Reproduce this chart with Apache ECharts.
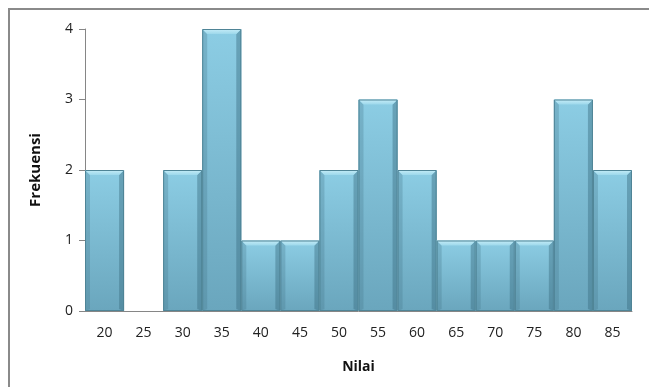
<!DOCTYPE html>
<html>
<head>
<meta charset="utf-8">
<script src="https://cdn.jsdelivr.net/npm/echarts@6/dist/echarts.min.js"></script>
<style>
  html, body { margin: 0; padding: 0; background: #ffffff; }
  #chart { width: 649px; height: 387px; }
</style>
</head>
<body>
<div id="chart"></div>
<script>
// Histogram of scores: "Nilai" classes and their frequencies
const categories = ['20', '25', '30', '35', '40', '45', '50', '55', '60', '65', '70', '75', '80', '85'];
const frequencies = [2, 0, 2, 4, 1, 1, 2, 3, 2, 1, 1, 1, 3, 2];
const yTicks = [0, 1, 2, 3, 4];

const chart = echarts.init(document.getElementById('chart'), null, { renderer: 'canvas' });

// Bevelled column: body, top highlight, side shading and outline
function renderBevelBar(params, api) {
  const idx = api.value(0);
  const val = api.value(1);
  if (!val) return null;
  const top = api.coord([idx, val]);
  const base = api.coord([idx, 0]);
  const w = api.size([1, 0])[0];
  const x0 = top[0] - w / 2;
  const x1 = top[0] + w / 2;
  const y0 = top[1];
  const y1 = base[1];
  const b = 5; // bevel depth
  return {
    type: 'group',
    children: [
      {
        type: 'rect',
        shape: { x: x0, y: y0, width: w, height: y1 - y0 },
        style: {
          fill: new echarts.graphic.LinearGradient(0, 0, 0, 1, [
            { offset: 0, color: '#8ccde4' },
            { offset: 1, color: '#6aa6bd' }
          ])
        }
      },
      // left edge
      {
        type: 'polygon',
        shape: { points: [[x0, y0], [x0 + b, y0 + b], [x0 + b, y1 - 2], [x0, y1]] },
        style: { fill: 'rgba(70,120,140,0.3)' }
      },
      // right edge
      {
        type: 'polygon',
        shape: { points: [[x1, y0], [x1 - b, y0 + b], [x1 - b, y1 - 2], [x1, y1]] },
        style: { fill: 'rgba(60,110,130,0.45)' }
      },
      // top highlight
      {
        type: 'polygon',
        shape: { points: [[x0, y0], [x1, y0], [x1 - b, y0 + b], [x0 + b, y0 + b]] },
        style: {
          fill: new echarts.graphic.LinearGradient(0, 0, 0, 1, [
            { offset: 0, color: '#c6edf8' },
            { offset: 1, color: '#9dd8eb' }
          ])
        }
      },
      // outline
      {
        type: 'rect',
        shape: { x: x0 + 0.5, y: y0 + 0.5, width: w - 1, height: y1 - y0 - 1 },
        style: { fill: null, stroke: '#4f8496', lineWidth: 1 }
      }
    ]
  };
}

const option = {
  animation: false,
  backgroundColor: '#ffffff',
  textStyle: { fontFamily: '"Open Sans", Lato, sans-serif' },
  graphic: [
    {
      type: 'rect',
      shape: { x: 9, y: 9, width: 660, height: 400 },
      style: { fill: null, stroke: '#8a8a8a', lineWidth: 2 },
      silent: true
    }
  ],
  grid: { left: 85, right: 17, top: 29, bottom: 76, containLabel: false },
  xAxis: {
    type: 'category',
    data: categories,
    name: 'Nilai',
    nameLocation: 'middle',
    nameGap: 49,
    nameTextStyle: { fontSize: 14, fontWeight: 'bold', color: '#111111' },
    axisLine: { show: true, lineStyle: { color: '#868686', width: 1 } },
    axisTick: { show: false },
    axisLabel: { fontSize: 14, color: '#222222', margin: 15 },
    splitLine: { show: false }
  },
  yAxis: {
    type: 'value',
    min: 0,
    max: 4,
    interval: 1,
    name: 'Frekuensi',
    nameLocation: 'middle',
    nameGap: 42,
    nameRotate: 90,
    nameTextStyle: { fontSize: 15, fontWeight: 'bold', color: '#111111' },
    axisLine: { show: true, lineStyle: { color: '#868686', width: 1 } },
    axisTick: { show: true, length: 6, inside: false, lineStyle: { color: '#868686' } },
    axisLabel: {
      fontSize: 14,
      color: '#222222',
      margin: 12,
      formatter: v => (yTicks.indexOf(v) >= 0 ? String(v) : '')
    },
    splitLine: { show: false }
  },
  series: [
    {
      type: 'custom',
      renderItem: renderBevelBar,
      encode: { x: 0, y: 1 },
      data: frequencies.map((f, i) => [i, f])
    }
  ]
};

chart.setOption(option);
</script>
</body>
</html>
